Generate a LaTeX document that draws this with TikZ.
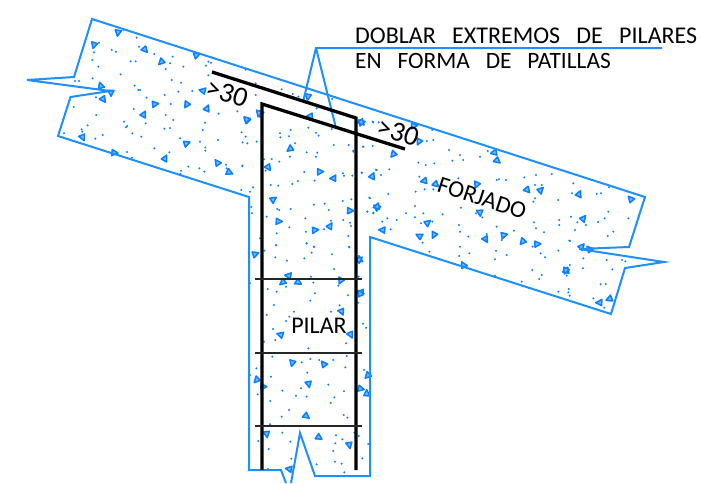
\documentclass[tikz,border=0pt]{standalone}
\usepackage{fontspec}
\setmainfont[WordSpace=3]{Carlito}
\definecolor{concrete}{HTML}{1E8FFF}
\definecolor{grainblue}{HTML}{0A80FF}
\tikzset{
    edge/.style={draw=concrete,line width=2pt,line join=miter},
    bar/.style={draw=black,line width=3.3pt,line join=miter},
    stirrup/.style={draw=black!85,line width=2pt},
    label/.style={inner sep=0pt,font=\fontsize{24}{25}\selectfont},
    lap/.style={inner sep=0pt,font=\fontsize{28}{29}\selectfont},
    grainline/.style={draw=grainblue,fill=grainblue!55,line width=1.5pt,line join=round},
}
\newcommand{\grain}[2]{\draw[grainline,shift={(#1,#2)},rotate={mod(7*#1+13*#2,360)}] (0,-3.6) -- (3.2,2.5) -- (-3,2.3) -- cycle;}
\newcommand{\speck}[2]{\fill[grainblue] (#1,#2) circle (1.15);}
\begin{document}
\begin{tikzpicture}[x=1pt,y=-1pt]
                \useasboundingbox (0,0) rectangle (701,483);

                \coordinate (T1) at (92,19);
                \coordinate (T2) at (645,197);
                \coordinate (R1) at (629,247);
                \coordinate (R2) at (579,249);
                \coordinate (R3) at (664,262);
                \coordinate (R4) at (625,268);
                \coordinate (R5) at (611,314);
                \coordinate (C1) at (370,237);
                \coordinate (C2) at (370,476);
                \coordinate (C3) at (315,476);
                \coordinate (C4) at (300,433);
                \coordinate (C5) at (291,483);
                \coordinate (C6) at (286,483);
                \coordinate (C7) at (281,470);
                \coordinate (C8) at (249,470);
                \coordinate (C9) at (249,197);
                \coordinate (L1) at (58,136);
                \coordinate (L2) at (70.5,97);
                \coordinate (L3) at (110,91);
                \coordinate (L4) at (27,80);
                \coordinate (L5) at (74,77);

                \coordinate (N0) at (662,48);
                \coordinate (N1) at (316,48);
                \coordinate (N2) at (303,102);
                \coordinate (N3) at (336,128);

                \coordinate (A1) at (212,72);
                \coordinate (A2) at (356,118);
                \coordinate (A3) at (356,470);
                \coordinate (B1) at (405,149);
                \coordinate (B2) at (262,104);
                \coordinate (B3) at (262,470);

                \foreach \x/\y in {354/98,282/135,435/149,590/165,484/186,302/257,333/278,310/298,465/312,560/314,621/325,431/343,740/360,780/340,248/412,560/430,495/475,652/488,688/517,343/458,924/290,608/272}
                    {\grain{\x/3}{\y/3}}
                \foreach \x/\y in {370/90,410/113,297/128,417/140,463/162,518/170,335/150,348/155,282/157,277/180,392/184,407/184,510/190,550/200,295/200,497/207,625/185,633/188,618/197,625/226,737/209,362/223,278/235,225/243,237/243,515/240,543/248,404/257,415/270,420/270,535/275,577/273,494/285,440/293,512/312,288/292,221/321,401/327,289/345,497/345,520/360,372/365,382/378,378/382,263/376,245/388,247/395,397/400,424/410,493/386,510/384,437/370,615/368,608/390,540/415,600/425,616/442,616/452,654/420,463/445,508/457,286/416,308/405,192/400,381/456,396/473,565/500,598/505,613/515,543/512,541/522,678/494,680/505,727/497,712/334,767/285,767/250,845/268,878/282,895/290,656/341,1005/290,950/325,997/297}
                    {\speck{\x/3}{\y/3}}

                \foreach \x/\y in {20/30,57/10,212/20,365/37,150/117,85/172,240/185,280/205,397/198,100/268,330/302,410/292,116/334,270/348,225/360}
                    {\grain{\x/3+240}{\y/3+110}}
                \foreach \x/\y in {5/67,17/80,8/97,22/100,50/95,120/70,121/82,152/60,147/79,205/53,228/68,236/77,275/57,281/105,326/105,340/125,369/110,398/35,416/37,165/100,200/127,232/128,228/140,150/140,72/148,95/147,118/155,77/182,7/168,193/186,224/212,174/213,157/222,92/225,115/227,309/190,312/197,337/197,366/188,410/180,388/263,4/240,30/245,39/232,308/273,334/268,254/281,222/284,266/300,152/297,112/297,118/300,34/291,36/310,80/320,196/325,273/332,310/330,330/338,333/348,148/352,110/370,252/358,198/365,325/378,200/400,222/410,108/406,327/410,60/385,382/305,400/310}
                    {\speck{\x/3+240}{\y/3+110}}

                \foreach \x/\y in {166/42,478/58,265/107,248/127,295/127,422/122,482/157,425/215,241/284,452/284,277/369,371/372,503/407,170/420,190/440,326/432,482/446,500/460,319/528,200/582,357/592,448/615,267/687}
                    {\grain{\x/3+200}{\y/3+240}}
                \foreach \x/\y in {228/16,320/10,342/20,335/38,396/43,448/22,193/32,226/52,261/62,313/55,402/87,333/110,476/110,340/128,258/140,203/147,230/155,150/130,415/137,345/160,331/182,444/166,474/188,222/195,419/196,200/225,282/215,393/215,258/243,268/230,489/251,498/263,219/267,192/305,226/300,438/310,325/325,217/350,440/348,305/367,331/357,358/360,400/360,436/382,169/385,322/398,492/390,150/405,213/410,385/434,303/445,247/452,432/454,173/463,288/467,320/470,403/472,392/489,211/483,267/510,431/525,245/530,442/533,210/553,247/578,408/586,463/578,476/588,175/603,271/605,427/598,406/610,505/612,206/627,400/633,487/655,274/656,405/665,425/671,350/673,204/687,433/697}
                    {\speck{\x/3+200}{\y/3+240}}

                \foreach \x/\y in {35/367,130/463,192/377,207/425,432/458,442/482}
                    {\grain{\x/3+350}{\y/3}}
                \foreach \x/\y in {70/367,247/390,230/423,250/420,297/450,330/465,340/480,307/482,390/470,413/453,205/488,227/495,253/490,78/510,93/525,118/508,40/440,68/438,10/452,35/518}
                    {\speck{\x/3+350}{\y/3}}

                \foreach \x/\y in {222/33,258/43,380/44,532/60,572/60,390/128,80/110,233/158,97/180,208/198,252/195,407/208,462/195,518/215,562/222,648/303,340/285,28/268,30/370}
                    {\grain{\x/3+350}{\y/3+170}}
                \foreach \x/\y in {208/20,60/85,115/72,197/65,224/58,250/58,52/125,70/128,195/108,220/130,278/133,333/113,325/25,378/130,397/142,440/30,447/28,468/30,523/22,558/15,605/12,555/45,575/45,577/55,550/95,555/85,625/90,112/145,140/150,97/155,122/178,168/130,195/142,213/160,247/155,327/165,330/185,355/200,440/170,492/182,410/192,408/210,455/210,552/157,558/175,582/187,628/150,628/165,330/230,358/250,328/258,438/242,470/255,435/268,625/242,572/250,585/262,238/245,547/300,575/315,568/327,515/335,625/365,655/367,658/212,218/218,548/230,435/317}
                    {\speck{\x/3+350}{\y/3+170}}

                \foreach \x/\y in {57/42,212/57,70/115,65/200,88/207,17/272,118/368,148/357}
                    {\grain{\x/3+560}{\y/3+180}}
                \foreach \x/\y in {40/10,36/40,110/42,123/40,147/22,145/95,134/115,114/126,205/115,33/110,52/127,78/135,45/150,160/155,143/168,30/183,70/235,140/240,186/240,196/244,157/268,69/265,29/255,20/287,122/313,137/312,26/327,29/347,100/355,133/383}
                    {\speck{\x/3+560}{\y/3+180}}

                \draw[edge] (C6) -- (C7) -- (C8) -- (C9) -- (L1) -- (L2) -- (L3) -- (L4) -- (L5) -- (T1) -- (T2) -- (R1) -- (R2) -- (R3) -- (R4) -- (R5) -- (C1) -- (C2) -- (C3) -- (C4) -- (C5);

                \draw[edge] (N0) -- (N1) -- (N2);
                \draw[edge] (N1) -- (N3);

                \draw[bar] (A1) -- (A2) -- (A3);
                \draw[bar] (B1) -- (B2) -- (B3);

                \draw[stirrup] (255,279) -- (362,279);
                \draw[stirrup] (255,352.5) -- (362,352.5);
                \draw[stirrup] (255,426) -- (362,426);

                \node[label,anchor=base west] (note1) at (355,43) {DOBLAR EXTREMOS DE PILARES};
                \node[label,anchor=base west,font=\fontsize{23.4}{25}\selectfont] (note2) at (355,68) {EN FORMA DE PATILLAS};
                \node[lap,rotate=-18] (lapleft) at (227,93) {>30};
                \node[lap,rotate=-18] (lapright) at (398,132) {>30};
                \node[label,rotate=-18] (forjado) at (482,198) {FORJADO};
                \node[label] (pilar) at (319,326) {PILAR};
            \end{tikzpicture}
\end{document}
